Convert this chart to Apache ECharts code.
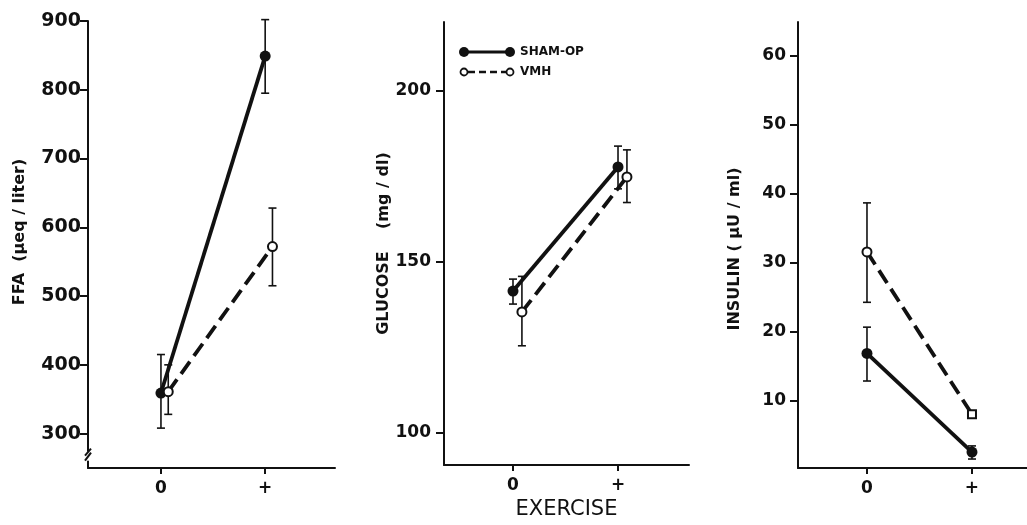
<!DOCTYPE html>
<html>
<head>
<meta charset="utf-8">
<script src="https://cdn.jsdelivr.net/npm/echarts@6/dist/echarts.min.js"></script>
<style>html,body{margin:0;padding:0;background:#fff}#c{width:1027px;height:525px}</style>
</head>
<body>
<div id="c"></div>
<script>
// ---- data ----
const categories = ['0', '+'];              // exercise: no / yes
const ffaSham = [359, 849];
const ffaShamLow = [308, 795];
const ffaShamHigh = [415, 902];
const ffaVmh = [361, 572];
const ffaVmhLow = [328, 515];
const ffaVmhHigh = [400, 628];

const gluSham = [141.3, 177.6];
const gluShamLow = [137.5, 171.2];
const gluShamHigh = [144.8, 183.7];
const gluVmh = [135.2, 174.7];
const gluVmhLow = [125.3, 167.2];
const gluVmhHigh = [145.6, 182.6];

const insSham = [16.9, 2.6];
const insShamLow = [12.9, 1.6];
const insShamHigh = [20.7, 3.5];
const insVmh = [31.6, 8.1];
const insVmhLow = [24.3, null];
const insVmhHigh = [38.7, null];

const ffaTicks = [300, 400, 500, 600, 700, 800, 900];
const gluTicks = [100, 150, 200];
const insTicks = [10, 20, 30, 40, 50, 60];

// ---- build ----
const FONT = 'DejaVu Sans';
const INK = '#111';
const shamShift = [0, 0, 0];
const vmhShift = [0.07, 0.085, 0];

function pts(vals, shift) { return vals.map((v, i) => [i + shift, v]); }
function errs(lo, hi, shift) {
  const out = [];
  lo.forEach((l, i) => { if (l != null && hi[i] != null) out.push([i + shift, l, hi[i]]); });
  return out;
}

const grids = [
  { left: 88, top: 21, width: 247, height: 447 },
  { left: 444, top: 22, width: 245, height: 446 },
  { left: 798, top: 22, width: 229, height: 446 }
];

function xAxis(idx, min, max, name) {
  return {
    type: 'value', gridIndex: idx, min: min, max: max,
    axisLine: { show: true, onZero: false, lineStyle: { color: INK, width: 2 } },
    splitLine: { show: false },
    axisTick: { show: true, length: 6, customValues: [0, 1], lineStyle: { color: INK, width: 2 } },
    axisLabel: { customValues: [0, 1], formatter: v => categories[Math.round(v)], color: INK,
      fontFamily: FONT, fontSize: 17, fontWeight: 'bold', margin: 12 },
    name: name || '', nameLocation: 'middle', nameGap: 31,
    nameTextStyle: { color: INK, fontFamily: FONT, fontSize: 21 }
  };
}
function yAxis(idx, min, max, ticks, name, fs, margin, gap, pad) {
  return {
    type: 'value', gridIndex: idx, min: min, max: max,
    axisLine: { show: true, onZero: false, lineStyle: { color: INK, width: 2 } },
    splitLine: { show: false },
    axisTick: { show: true, length: 8, customValues: ticks, lineStyle: { color: INK, width: 2 } },
    axisLabel: { customValues: ticks, color: INK, fontFamily: FONT, fontSize: fs, fontWeight: 'bold', margin: margin },
    name: name, nameLocation: 'middle', nameRotate: 90, nameGap: gap,
    nameTextStyle: { color: INK, fontFamily: FONT, fontSize: 16, fontWeight: 'bold', padding: pad }
  };
}

function lineSeries(idx, data, dashed, filled) {
  return {
    type: 'line', xAxisIndex: idx, yAxisIndex: idx, data: data,
    symbol: 'circle', symbolSize: filled ? 11 : 9,
    lineStyle: { color: INK, width: 3.8, type: dashed ? [15, 7] : 'solid' },
    itemStyle: { color: filled ? INK : '#fff', borderColor: INK, borderWidth: filled ? 0 : 2 },
    z: 3, animation: false
  };
}
function errSeries(idx, data) {
  return {
    type: 'custom', xAxisIndex: idx, yAxisIndex: idx, data: data, z: 2, animation: false,
    renderItem: function (params, api) {
      const lo = api.coord([api.value(0), api.value(1)]);
      const hi = api.coord([api.value(0), api.value(2)]);
      const w = 4;
      const st = { stroke: INK, lineWidth: 1.6 };
      return { type: 'group', children: [
        { type: 'line', shape: { x1: lo[0], y1: lo[1], x2: hi[0], y2: hi[1] }, style: st },
        { type: 'line', shape: { x1: lo[0] - w, y1: lo[1], x2: lo[0] + w, y2: lo[1] }, style: st },
        { type: 'line', shape: { x1: hi[0] - w, y1: hi[1], x2: hi[0] + w, y2: hi[1] }, style: st }
      ]};
    }
  };
}
// axis break marker on the FFA axis
const breakSeries = {
  type: 'custom', xAxisIndex: 0, yAxisIndex: 0, data: [[-0.7, 265]], z: 5, animation: false, silent: true,
  renderItem: function (params, api) {
    const p = api.coord([api.value(0), api.value(1)]);
    return { type: 'group', children: [
      { type: 'rect', shape: { x: p[0] - 3, y: p[1] - 6, width: 6, height: 9 }, style: { fill: '#fff' } },
      { type: 'line', shape: { x1: p[0] - 3, y1: p[1] + 3, x2: p[0] + 3, y2: p[1] - 5 }, style: { stroke: INK, lineWidth: 2 } },
      { type: 'line', shape: { x1: p[0] - 3, y1: p[1] - 2, x2: p[0] + 3, y2: p[1] - 9 }, style: { stroke: INK, lineWidth: 2 } }
    ]};
  }
};

const option = {
  backgroundColor: '#fff',
  animation: false,
  grid: grids,
  xAxis: [
    xAxis(0, -0.70, 1.67),
    xAxis(1, -0.657, 1.676, 'EXERCISE'),
    xAxis(2, -0.657, 1.524)
  ],
  yAxis: [
    yAxis(0, 250, 900, ffaTicks, 'FFA  (\u03bceq / liter)', 19, 7, 60, [0, 0, 0, 25]),
    yAxis(1, 90.4, 220, gluTicks, 'GLUCOSE    (mg / dl)', 17, 13, 52, 0),
    yAxis(2, 0.3, 64.9, insTicks, 'INSULIN ( \u03bcU / ml)', 17, 12, 55, [0, 8, 0, 0])
  ],
  series: [
    lineSeries(0, pts(ffaSham, shamShift[0]), false, true),
    lineSeries(0, pts(ffaVmh, vmhShift[0]), true, false),
    errSeries(0, errs(ffaShamLow, ffaShamHigh, shamShift[0])),
    errSeries(0, errs(ffaVmhLow, ffaVmhHigh, vmhShift[0])),
    breakSeries,
    lineSeries(1, pts(gluSham, shamShift[1]), false, true),
    lineSeries(1, pts(gluVmh, vmhShift[1]), true, false),
    errSeries(1, errs(gluShamLow, gluShamHigh, shamShift[1])),
    errSeries(1, errs(gluVmhLow, gluVmhHigh, vmhShift[1])),
    lineSeries(2, pts(insSham, shamShift[2]), false, true),
    Object.assign(lineSeries(2, pts(insVmh, vmhShift[2]), true, false), {
      symbol: (v, p) => p.dataIndex === 1 ? 'rect' : 'circle', symbolSize: (v, p) => p.dataIndex === 1 ? 8 : 9 }),
    errSeries(2, errs(insShamLow, insShamHigh, shamShift[2])),
    errSeries(2, errs(insVmhLow, insVmhHigh, vmhShift[2]))
  ],
  graphic: [
    { type: 'group', left: 459, top: 46, children: [
      { type: 'line', shape: { x1: 5, y1: 6, x2: 51, y2: 6 }, style: { stroke: INK, lineWidth: 3 } },
      { type: 'circle', shape: { cx: 5, cy: 6, r: 5 }, style: { fill: INK } },
      { type: 'circle', shape: { cx: 51, cy: 6, r: 5 }, style: { fill: INK } },
      { type: 'text', x: 61, y: 6, style: { text: 'SHAM-OP', fill: INK, font: 'bold 12px "DejaVu Sans"', verticalAlign: 'middle' } },
      { type: 'line', shape: { x1: 9, y1: 26, x2: 47, y2: 26 }, style: { stroke: INK, lineWidth: 2.5, lineDash: [7, 4] } },
      { type: 'circle', shape: { cx: 5, cy: 26, r: 3.5 }, style: { fill: '#fff', stroke: INK, lineWidth: 1.8 } },
      { type: 'circle', shape: { cx: 51, cy: 26, r: 3.5 }, style: { fill: '#fff', stroke: INK, lineWidth: 1.8 } },
      { type: 'text', x: 61, y: 26, style: { text: 'VMH', fill: INK, font: 'bold 12px "DejaVu Sans"', verticalAlign: 'middle' } }
    ]}
  ]
};

const chart = echarts.init(document.getElementById('c'), null, { renderer: 'canvas' });
chart.setOption(option);
</script>
</body>
</html>
